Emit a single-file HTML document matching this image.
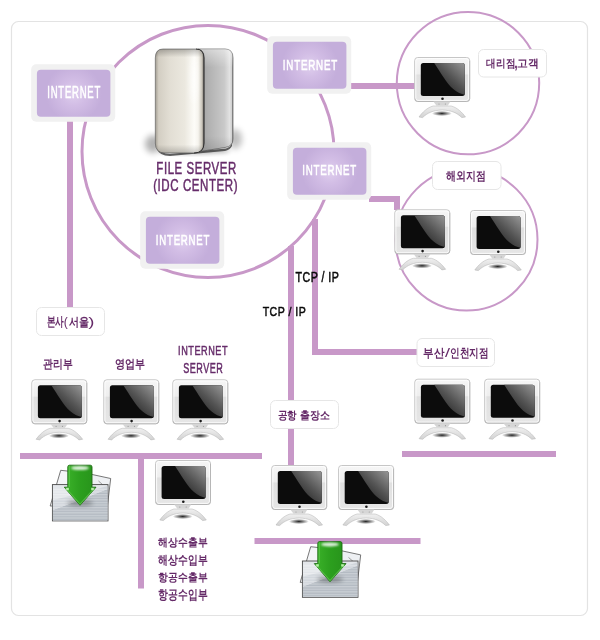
<!DOCTYPE html>
<html><head><meta charset="utf-8">
<style>
html,body{margin:0;padding:0;background:#fff;}
svg{display:block;font-family:"Liberation Sans",sans-serif;will-change:transform;}
.k{font-family:"Liberation Sans",sans-serif;font-weight:bold;fill:#6a2c6c;font-size:13px;stroke:#6a2c6c;stroke-width:0.3px;}
.e{font-family:"Liberation Sans",sans-serif;fill:#6b3470;font-size:14px;stroke:#6b3470;stroke-width:0.4px;}
.w{font-family:"Liberation Sans",sans-serif;fill:#fff;font-size:14.5px;stroke:#fff;stroke-width:0.45px;}
.t{font-family:"Liberation Sans",sans-serif;fill:#111;font-size:13.5px;stroke:#111;stroke-width:0.35px;}
</style></head><body>
<svg width="600" height="640" viewBox="0 0 600 640">
<defs>
  <radialGradient id="gbox" gradientUnits="userSpaceOnUse" cx="42.5" cy="29" r="28">
    <stop offset="0" stop-color="#dfcfee"/>
    <stop offset="0.45" stop-color="#d2bde5"/>
    <stop offset="1" stop-color="#c4aedb"/>
  </radialGradient>
  <linearGradient id="gbez" x1="0" y1="0" x2="0" y2="1">
    <stop offset="0" stop-color="#f6f6f6"/>
    <stop offset="0.37" stop-color="#eeeeee"/>
    <stop offset="0.4" stop-color="#e0e0e0"/>
    <stop offset="1" stop-color="#e6e6e6"/>
  </linearGradient>
  <linearGradient id="ggloss" x1="1" y1="0" x2="0.25" y2="0.85">
    <stop offset="0" stop-color="#979797"/>
    <stop offset="0.55" stop-color="#545454"/>
    <stop offset="1" stop-color="#262626"/>
  </linearGradient>
  <radialGradient id="gshad" cx="0.5" cy="0.5" r="0.5">
    <stop offset="0" stop-color="#000" stop-opacity="0.85"/>
    <stop offset="1" stop-color="#000" stop-opacity="0"/>
  </radialGradient>
  <g id="mon">
    <rect x="0.5" y="0.5" width="55" height="44" rx="3" fill="url(#gbez)" stroke="#c6c6c6" stroke-width="1"/>
    <rect x="1.6" y="1.6" width="52.8" height="41.8" rx="2.2" fill="none" stroke="#ffffff" stroke-width="0.9" opacity="0.9"/>
    <path d="M0.8,41.5 Q0.8,44.5 3.5,44.5 L52.5,44.5 Q55.5,44.5 55.5,41.5 L55.5,3.5" fill="none" stroke="#a9a9a9" stroke-width="0.8" opacity="0.7"/>
    <rect x="6.6" y="6" width="44" height="33" rx="2.5" fill="#0c0c0c"/>
    <path d="M20,6 C26,15 32.5,26.5 39,32 C43,35.5 47,37 50.6,37.8 L50.6,8.5 Q50.6,6 48.1,6 Z" fill="url(#ggloss)"/>
        <circle cx="28.3" cy="41.8" r="1.3" fill="#1a1a1a"/>
    <path d="M19.2,44.6 L36.2,44.6 L33.7,48.4 L22.2,48.4 Z" fill="#d6d6d6"/>
    <circle cx="24.8" cy="47" r="0.6" fill="#999"/>
    <circle cx="31.2" cy="47" r="0.6" fill="#999"/>
    <ellipse cx="27.7" cy="56.5" rx="10" ry="2.6" fill="url(#gshad)"/>
    <path d="M4.8,60 C8,55.5 13,50.5 19,49 L37,49 C43,50.5 48,55.5 51.3,60 L47.6,60.6 C43,56 37,53.2 28,53 C19,53.2 13,56 8.4,60.6 Z" fill="url(#gstand)" stroke="#b0b0b0" stroke-width="0.5"/>
  </g>
  <g id="box">
    <rect x="0" y="0" width="84" height="57.5" rx="5" fill="#f1f1f1"/>
    <rect x="5.7" y="5.5" width="73.5" height="47" rx="4" fill="url(#gbox)"/>
  </g>
  <filter id="blur3" x="-50%" y="-50%" width="200%" height="200%"><feGaussianBlur stdDeviation="3"/></filter>
  <filter id="blur2" x="-50%" y="-50%" width="200%" height="200%"><feGaussianBlur stdDeviation="2"/></filter>
  <filter id="blur1" x="-50%" y="-50%" width="200%" height="200%"><feGaussianBlur stdDeviation="1"/></filter>
  <linearGradient id="gfront" x1="0" y1="0" x2="1" y2="0">
    <stop offset="0" stop-color="#a39e93"/>
    <stop offset="0.07" stop-color="#d3cec3"/>
    <stop offset="0.3" stop-color="#e2ded4"/>
    <stop offset="0.6" stop-color="#ebe8df"/>
    <stop offset="0.8" stop-color="#fdfcf8"/>
    <stop offset="0.88" stop-color="#f6f4ee"/>
    <stop offset="0.96" stop-color="#c9c4b9"/>
    <stop offset="1" stop-color="#5e5a55"/>
  </linearGradient>
  <linearGradient id="gfronttop" x1="0" y1="0" x2="0" y2="1">
    <stop offset="0" stop-color="#000" stop-opacity="0.25"/>
    <stop offset="0.08" stop-color="#000" stop-opacity="0"/>
    <stop offset="0.92" stop-color="#000" stop-opacity="0"/>
    <stop offset="1" stop-color="#000" stop-opacity="0.2"/>
  </linearGradient>
  <linearGradient id="gside" x1="0" y1="0" x2="1" y2="0">
    <stop offset="0" stop-color="#9c9c9c"/>
    <stop offset="0.3" stop-color="#b1b1b1"/>
    <stop offset="0.75" stop-color="#c9c9c9"/>
    <stop offset="0.9" stop-color="#e2e2e2"/>
    <stop offset="0.96" stop-color="#d2d2d2"/>
    <stop offset="1" stop-color="#7a7a7a"/>
  </linearGradient>
  <linearGradient id="gtray" x1="0" y1="0" x2="0" y2="1">
    <stop offset="0" stop-color="#eef0f2"/>
    <stop offset="0.35" stop-color="#d6dadf"/>
    <stop offset="1" stop-color="#a9b0b8"/>
  </linearGradient>
  <pattern id="stripes" width="4" height="2.6" patternUnits="userSpaceOnUse">
    <rect width="4" height="1.3" fill="#ffffff" opacity="0.3"/>
  </pattern>
  <linearGradient id="garrow" x1="0" y1="0" x2="1" y2="0">
    <stop offset="0" stop-color="#3db42b"/>
    <stop offset="0.5" stop-color="#2c9f1e"/>
    <stop offset="1" stop-color="#27921b"/>
  </linearGradient>
  <linearGradient id="gstand" x1="0" y1="0" x2="0" y2="1">
    <stop offset="0" stop-color="#f0f0f0"/>
    <stop offset="1" stop-color="#d2d2d2"/>
  </linearGradient>
  <linearGradient id="gsidev" x1="0" y1="0" x2="0" y2="1">
    <stop offset="0" stop-color="#fff" stop-opacity="0.45"/>
    <stop offset="0.18" stop-color="#fff" stop-opacity="0"/>
    <stop offset="0.85" stop-color="#000" stop-opacity="0"/>
    <stop offset="1" stop-color="#000" stop-opacity="0.12"/>
  </linearGradient>
</defs>

<!-- frame -->
<rect x="11.5" y="21.5" width="576" height="594" rx="7" fill="none" stroke="#e3e3e3" stroke-width="1.2"/>

<!-- circles -->
<g fill="none" stroke="#c898c8">
  <circle cx="208" cy="151.4" r="126" stroke-width="3"/>
  <circle cx="468" cy="83.1" r="71.2" stroke-width="2"/>
  <circle cx="466.5" cy="239.6" r="71" stroke-width="2"/>
</g>

<!-- lines -->
<g fill="#c898c8">
  <rect x="67" y="118" width="6" height="190"/>
  <rect x="349" y="83" width="66" height="6"/>
  <rect x="369" y="196" width="31" height="6"/>
  <rect x="394" y="196" width="6" height="14"/>
  <rect x="288" y="246" width="6" height="220"/>
  <rect x="312" y="219" width="6" height="136"/>
  <rect x="312" y="349" width="106" height="6"/>
  <rect x="20" y="453" width="242" height="6"/>
  <rect x="138" y="453" width="6" height="135.5"/>
  <rect x="254.5" y="538" width="166" height="6"/>
  <rect x="402" y="451" width="154" height="6"/>
</g>

<!-- internet boxes -->
<use href="#box" x="31.2" y="64.2"/>
<use href="#box" x="267.2" y="36.2"/>
<use href="#box" x="287.2" y="142.2"/>
<use href="#box" x="140.2" y="211.2"/>

<!-- server -->
<g id="server">
  <ellipse cx="153" cy="144" rx="8" ry="9" fill="#000" opacity="0.3" filter="url(#blur3)"/>
  <ellipse cx="235" cy="139" rx="7" ry="10" fill="#000" opacity="0.25" filter="url(#blur3)"/>
  <ellipse cx="194" cy="151" rx="36" ry="3" fill="#000" opacity="0.3" filter="url(#blur2)"/>
  <path d="M158,147 Q160,153.5 170,154 L226,148.5 Q231,147 232,143 L232,146 Q230,150 225,151 L170,156 Q159,155.5 157,149 Z" fill="#3a3a3a" opacity="0.8"/>
  <path d="M198,49 L225,49 Q233,49 233,58 L233,139 Q233,146.5 225,147.5 L200,151.5 Z" fill="url(#gside)" stroke="#444" stroke-width="0.6"/>
  <path d="M198,49 L225,49 Q233,49 233,58 L233,139 Q233,146.5 225,147.5 L200,151.5 Z" fill="url(#gsidev)"/>
  <path d="M163,49 L196,49 Q204,49 204,58 L204,143 Q204,153 194,153 L165,153 Q155.3,153 155.3,143 L155.3,58 Q155.3,49 163,49 Z" fill="url(#gfront)" stroke="#555" stroke-width="0.6"/>
  <path d="M163,49 L196,49 Q204,49 204,58 L204,143 Q204,153 194,153 L165,153 Q155.3,153 155.3,143 L155.3,58 Q155.3,49 163,49 Z" fill="url(#gfronttop)"/>
  <ellipse cx="194" cy="80" rx="4" ry="22" fill="#fff" opacity="0.5" filter="url(#blur2)"/>
  <path d="M196,49 Q204,49 204,58 L204,143 Q204,153 194,153" fill="none" stroke="#2a2a2a" stroke-width="0.9"/>
</g>

<!-- monitors -->
<use href="#mon" x="414.2" y="57"/>
<use href="#mon" x="394.3" y="209.3"/>
<use href="#mon" x="470" y="210"/>
<use href="#mon" x="31.3" y="379.3"/>
<use href="#mon" x="103.3" y="379.3"/>
<use href="#mon" x="172.3" y="379.3"/>
<use href="#mon" x="155" y="460"/>
<use href="#mon" x="271.2" y="465"/>
<use href="#mon" x="338.1" y="465"/>
<use href="#mon" x="414.3" y="378.7"/>
<use href="#mon" x="484.2" y="378.7"/>

<!-- labels -->
<g fill="#fff" stroke="#e6e6e6" stroke-width="1">
  <rect x="478.5" y="49.5" width="68" height="27.5" rx="5"/>
  <rect x="432.5" y="161.5" width="68.5" height="28" rx="5"/>
  <rect x="36.5" y="307.5" width="68" height="28" rx="5"/>
  <rect x="270.5" y="400.5" width="68" height="28" rx="5"/>
  <rect x="417" y="338.5" width="77.5" height="28" rx="5"/>
</g>


<!-- file icons -->
<g id="file1">
  <path d="M60.7,470.3 L76,472 L74,506 L50.2,506 Z" fill="#f4f5f7" stroke="#555" stroke-width="0.8"/>
  <path d="M76,471 L110.7,478.5 L107.4,506 L70,506 Z" fill="#eef0f3" stroke="#555" stroke-width="0.8"/>
  <path d="M98.5,481 L103,485 L108,486" fill="none" stroke="#777" stroke-width="0.7"/>
  <rect x="52.4" y="484.6" width="55.6" height="36.3" fill="#e3e6ea" stroke="#4a4a4a" stroke-width="0.9"/>
  <path d="M52.9,510 Q80,500 107.5,489 L107.5,520.4 L52.9,520.4 Z" fill="#b3bac2"/>
  <path d="M52.9,500 Q80,494 107.5,486 L107.5,489 Q80,500 52.9,510 Z" fill="#d0d5db"/>
  <rect x="53" y="488" width="54.5" height="32.5" fill="url(#stripes)"/>
  <ellipse cx="80" cy="503" rx="13" ry="3" fill="#000" opacity="0.3" filter="url(#blur2)"/>
  <path d="M69.5,465.2 L90.3,465.2 Q92,465.2 92,467 L92,487.2 L96,487.2 L80,505.3 L64.3,487.2 L67.8,487.2 L67.8,467 Q67.8,465.2 69.5,465.2 Z" fill="url(#garrow)" stroke="#1d6a12" stroke-width="0.9"/>
  <path d="M65.6,488 L80,504.2 L94.7,488" fill="none" stroke="#62c850" stroke-width="1.2" opacity="0.7"/>
  <rect x="66.2" y="487.8" width="2.6" height="2.4" fill="#b8f0a8"/>
  <rect x="91.2" y="487.8" width="2.6" height="2.4" fill="#b8f0a8"/>
  <rect x="68.6" y="466" width="1.2" height="21" fill="#6fd45c" opacity="0.6"/>
  <ellipse cx="80" cy="468" rx="9" ry="2" fill="#fff" opacity="0.85" filter="url(#blur1)"/>
</g>
<use href="#file1" x="250" y="76.4"/>
<text x="47.30" y="97.70" font-size="15.58" font-weight="normal" textLength="53.76" lengthAdjust="spacingAndGlyphs" letter-spacing="1.20" fill="#ffffff" stroke="#ffffff" stroke-width="0.60">INTERNET</text>
<text x="282.86" y="69.82" font-size="15.49" font-weight="normal" textLength="55.11" lengthAdjust="spacingAndGlyphs" letter-spacing="1.20" fill="#ffffff" stroke="#ffffff" stroke-width="0.60">INTERNET</text>
<text x="302.30" y="175.38" font-size="15.49" font-weight="normal" textLength="54.67" lengthAdjust="spacingAndGlyphs" letter-spacing="1.20" fill="#ffffff" stroke="#ffffff" stroke-width="0.60">INTERNET</text>
<text x="155.86" y="244.82" font-size="15.49" font-weight="normal" textLength="54.21" lengthAdjust="spacingAndGlyphs" letter-spacing="1.20" fill="#ffffff" stroke="#ffffff" stroke-width="0.60">INTERNET</text>
<text x="156.34" y="174.22" font-size="15.87" font-weight="normal" textLength="80.52" lengthAdjust="spacingAndGlyphs" letter-spacing="0.80" fill="#662c6a" stroke="#662c6a" stroke-width="0.50">FILE SERVER</text>
<text x="153.18" y="191.42" font-size="15.87" font-weight="normal" textLength="84.99" lengthAdjust="spacingAndGlyphs" letter-spacing="0.80" fill="#662c6a" stroke="#662c6a" stroke-width="0.50">(IDC CENTER)</text>
<text x="178.05" y="355.34" font-size="13.65" font-weight="normal" textLength="50.03" lengthAdjust="spacingAndGlyphs" letter-spacing="0.80" fill="#662c6a" stroke="#662c6a" stroke-width="0.50">INTERNET</text>
<text x="183.22" y="372.64" font-size="14.23" font-weight="normal" textLength="40.04" lengthAdjust="spacingAndGlyphs" letter-spacing="0.80" fill="#662c6a" stroke="#662c6a" stroke-width="0.50">SERVER</text>
<text x="295.56" y="282.48" font-size="13.79" font-weight="normal" textLength="43.63" lengthAdjust="spacingAndGlyphs" letter-spacing="0.60" fill="#0a0a0a" stroke="#0a0a0a" stroke-width="0.50">TCP / IP</text>
<text x="262.70" y="315.76" font-size="13.54" font-weight="normal" textLength="43.51" lengthAdjust="spacingAndGlyphs" letter-spacing="0.60" fill="#0a0a0a" stroke="#0a0a0a" stroke-width="0.50">TCP / IP</text>
<text x="486.48" y="67.36" font-size="10.60" font-weight="600" textLength="28.86" lengthAdjust="spacingAndGlyphs" letter-spacing="0.00" fill="#652a68" stroke="#652a68" stroke-width="0.00">대리점</text>
<text x="514.18" y="68.36" font-size="14.30" font-weight="bold" textLength="3.45" lengthAdjust="spacingAndGlyphs" letter-spacing="0.00" fill="#652a68" stroke="#652a68" stroke-width="0.00">,</text>
<text x="517.44" y="67.48" font-size="10.72" font-weight="600" textLength="21.68" lengthAdjust="spacingAndGlyphs" letter-spacing="0.00" fill="#652a68" stroke="#652a68" stroke-width="0.00">고객</text>
<text x="446.30" y="179.74" font-size="12.35" font-weight="600" textLength="39.65" lengthAdjust="spacingAndGlyphs" letter-spacing="0.00" fill="#652a68" stroke="#652a68" stroke-width="0.00">해외지점</text>
<text x="46.74" y="325.76" font-size="12.54" font-weight="600" textLength="17.26" lengthAdjust="spacingAndGlyphs" letter-spacing="0.00" fill="#652a68" stroke="#652a68" stroke-width="0.00">본사</text>
<text x="63.76" y="325.76" font-size="12.54" font-weight="normal" textLength="4.04" lengthAdjust="spacingAndGlyphs" letter-spacing="0.00" fill="#652a68" stroke="#652a68" stroke-width="0.00">(</text>
<text x="68.52" y="325.88" font-size="12.48" font-weight="600" textLength="20.06" lengthAdjust="spacingAndGlyphs" letter-spacing="0.00" fill="#652a68" stroke="#652a68" stroke-width="0.00">서울</text>
<text x="88.18" y="325.76" font-size="12.54" font-weight="normal" textLength="6.17" lengthAdjust="spacingAndGlyphs" letter-spacing="0.00" fill="#652a68" stroke="#652a68" stroke-width="0.00">)</text>
<text x="43.48" y="367.70" font-size="12.12" font-weight="600" textLength="29.65" lengthAdjust="spacingAndGlyphs" letter-spacing="0.00" fill="#652a68" stroke="#652a68" stroke-width="0.00">관리부</text>
<text x="114.76" y="367.50" font-size="12.48" font-weight="600" textLength="29.98" lengthAdjust="spacingAndGlyphs" letter-spacing="0.00" fill="#652a68" stroke="#652a68" stroke-width="0.00">영업부</text>
<text x="277.78" y="418.96" font-size="11.48" font-weight="600" textLength="18.96" lengthAdjust="spacingAndGlyphs" letter-spacing="0.00" fill="#652a68" stroke="#652a68" stroke-width="0.00">공항</text>
<text x="300.42" y="418.72" font-size="11.48" font-weight="600" textLength="29.73" lengthAdjust="spacingAndGlyphs" letter-spacing="0.00" fill="#652a68" stroke="#652a68" stroke-width="0.00">출장소</text>
<text x="423.00" y="357.00" font-size="12.32" font-weight="600" textLength="21.02" lengthAdjust="spacingAndGlyphs" letter-spacing="0.00" fill="#652a68" stroke="#652a68" stroke-width="0.00">부산</text>
<text x="445.00" y="357.00" font-size="12.32" font-weight="normal" textLength="5.00" lengthAdjust="spacingAndGlyphs" letter-spacing="0.00" fill="#652a68" stroke="#652a68" stroke-width="0.00">/</text>
<text x="450.20" y="357.00" font-size="12.37" font-weight="600" textLength="38.58" lengthAdjust="spacingAndGlyphs" letter-spacing="0.00" fill="#652a68" stroke="#652a68" stroke-width="0.00">인천지점</text>
<text x="158.30" y="546.30" font-size="11.15" font-weight="600" textLength="49.20" lengthAdjust="spacingAndGlyphs" letter-spacing="0.00" fill="#652a68" stroke="#652a68" stroke-width="0.00">해상수출부</text>
<text x="158.30" y="563.60" font-size="12.38" font-weight="600" textLength="49.20" lengthAdjust="spacingAndGlyphs" letter-spacing="0.00" fill="#652a68" stroke="#652a68" stroke-width="0.00">해상수입부</text>
<text x="158.30" y="581.10" font-size="11.17" font-weight="600" textLength="49.17" lengthAdjust="spacingAndGlyphs" letter-spacing="0.00" fill="#652a68" stroke="#652a68" stroke-width="0.00">항공수출부</text>
<text x="158.30" y="599.20" font-size="12.52" font-weight="600" textLength="49.20" lengthAdjust="spacingAndGlyphs" letter-spacing="0.00" fill="#652a68" stroke="#652a68" stroke-width="0.00">항공수입부</text>
</svg>
</body></html>
